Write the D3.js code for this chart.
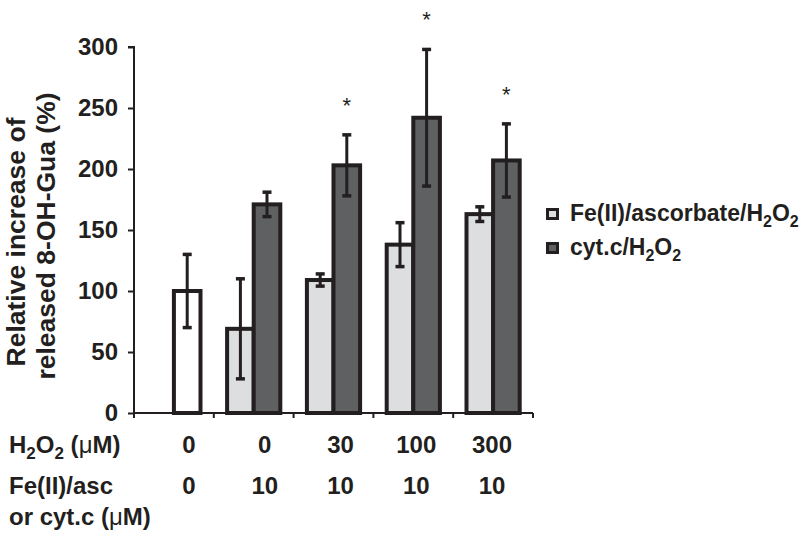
<!DOCTYPE html>
<html>
<head>
<meta charset="utf-8">
<script src="https://cdn.jsdelivr.net/npm/d3@7"></script>
<style>
  html, body { margin: 0; padding: 0; background: #fff; }
  svg { display: block; }
  text { font-family: "Liberation Sans", Arial, sans-serif; fill: #231f20; }
</style>
</head>
<body>
<script>
// ---------- data ----------
const groups = ["G1", "G2", "G3", "G4", "G5"];
const seriesNames = ["Fe(II)/ascorbate/H2O2", "cyt.c/H2O2"];
const feValues  = [null, 69, 109, 138, 163];
const feErrors  = [null, 41, 5, 18, 6];
const cytValues = [100, 171, 203, 242, 207];   // first group = control (0 µM)
const cytErrors = [30, 10, 25, 56, 30];
const significant = [false, false, true, true, true];
const h2o2Labels = ["0", "0", "30", "100", "300"];
const ironLabels = ["0", "10", "10", "10", "10"];
const yTicks = [0, 50, 100, 150, 200, 250, 300];

// ---------- layout ----------
const W = 800, H = 535;
const svg = d3.select("body").append("svg").attr("width", W).attr("height", H);

const x0 = d3.scaleBand().domain(groups).range([134, 533]).paddingInner(0).paddingOuter(0);
const x1 = d3.scaleBand().domain([0, 1]).range([0, x0.bandwidth()]).paddingInner(0).paddingOuter(0.5);
const y = d3.scaleLinear().domain([0, 300]).range([413, 47]);
const colCenters = d3.scalePoint().domain(groups).range([189, 492]);

const ink = "#231f20";
const lightFill = "#dcdedf";
const darkFill = "#5e6061";

// bars
const barData = [];
groups.forEach((g, i) => {
  if (feValues[i] != null) barData.push({g, s: 0, v: feValues[i], e: feErrors[i], sig: false, fill: lightFill});
  barData.push({g, s: 1, v: cytValues[i], e: cytErrors[i], sig: significant[i], fill: i === 0 ? "#ffffff" : darkFill});
});

svg.append("g").selectAll("rect").data(barData).join("rect")
  .attr("x", d => x0(d.g) + x1(d.s))
  .attr("y", d => y(d.v))
  .attr("width", x1.bandwidth())
  .attr("height", d => y(0) - y(d.v))
  .attr("fill", d => d.fill)
  .attr("stroke", ink)
  .attr("stroke-width", 4);

// error bars
const eg = svg.append("g").attr("stroke", ink).attr("stroke-width", 3);
barData.forEach(d => {
  const cx = x0(d.g) + x1(d.s) + x1.bandwidth() / 2;
  eg.append("line").attr("x1", cx).attr("x2", cx).attr("y1", y(d.v + d.e)).attr("y2", y(d.v - d.e));
  eg.append("line").attr("x1", cx - 4.5).attr("x2", cx + 4.5).attr("y1", y(d.v + d.e)).attr("y2", y(d.v + d.e)).attr("stroke-width", 3.5);
  eg.append("line").attr("x1", cx - 4.5).attr("x2", cx + 4.5).attr("y1", y(d.v - d.e)).attr("y2", y(d.v - d.e)).attr("stroke-width", 3.5);
  if (d.sig) {
    svg.append("text").attr("x", cx).attr("y", y(d.v + d.e) - 22)
      .attr("text-anchor", "middle").attr("font-size", 22).text("*");
  }
});

// axes
const yAxis = svg.append("g").attr("transform", "translate(134,0)")
  .call(d3.axisLeft(y).tickValues(yTicks).tickSize(6).tickPadding(10));
yAxis.select(".domain").attr("stroke", ink).attr("stroke-width", 2).attr("d", `M-6,${y(300)}H0V${y(0)}`);
yAxis.selectAll(".tick line").attr("stroke", ink).attr("stroke-width", 2);
yAxis.selectAll(".tick text").attr("font-size", 24).attr("font-weight", "bold")
  .attr("font-family", "Liberation Sans, Arial, sans-serif").attr("fill", ink);

const xAxis = svg.append("g").attr("transform", "translate(0,413)");
xAxis.append("line").attr("x1", 134).attr("x2", 533).attr("y1", 0).attr("y2", 0)
  .attr("stroke", ink).attr("stroke-width", 2);
const bounds = groups.map(g => x0(g)).concat([x0.range()[1]]);
xAxis.selectAll("line.tk").data(bounds).join("line").attr("class", "tk")
  .attr("x1", d => d).attr("x2", d => d).attr("y1", 0).attr("y2", 5)
  .attr("stroke", ink).attr("stroke-width", 2);

// y-axis title
const yt = svg.append("g").attr("font-size", 26.5).attr("font-weight", "bold");
yt.append("text").attr("transform", "translate(25,242) rotate(-90)")
  .attr("text-anchor", "middle").text("Relative increase of");
yt.append("text").attr("transform", "translate(55,236) rotate(-90)")
  .attr("text-anchor", "middle").text("released 8-OH-Gua (%)");

// table rows under axis
const tbl = svg.append("g").attr("font-size", 24).attr("font-weight", "bold");
const r1 = tbl.append("text").attr("x", 9).attr("y", 453);
r1.append("tspan").text("H");
r1.append("tspan").attr("font-size", 17).attr("dy", 6).text("2");
r1.append("tspan").attr("dy", -6).text("O");
r1.append("tspan").attr("font-size", 17).attr("dy", 6).text("2");
r1.append("tspan").attr("dy", -6).text(" (");
r1.append("tspan").attr("font-weight", "normal").text("\u03bc");
r1.append("tspan").text("M)");
tbl.append("text").attr("x", 9).attr("y", 494).text("Fe(II)/asc");
const r3 = tbl.append("text").attr("x", 9).attr("y", 525);
r3.append("tspan").text("or cyt.c (");
r3.append("tspan").attr("font-weight", "normal").text("\u03bc");
r3.append("tspan").text("M)");

tbl.selectAll("text.h").data(groups).join("text").attr("class", "h")
  .attr("x", g => colCenters(g)).attr("y", 453).attr("text-anchor", "middle")
  .text((g, i) => h2o2Labels[i]);
tbl.selectAll("text.f").data(groups).join("text").attr("class", "f")
  .attr("x", g => colCenters(g)).attr("y", 494).attr("text-anchor", "middle")
  .text((g, i) => ironLabels[i]);

// legend
const legendFills = [lightFill, darkFill];
const lg = svg.append("g").attr("font-size", 23).attr("font-weight", "bold");
seriesNames.forEach((name, i) => {
  const yy = 208 + i * 34;
  lg.append("rect").attr("x", 547.5).attr("y", yy + 1.5).attr("width", 10).attr("height", 9)
    .attr("fill", legendFills[i]).attr("stroke", ink).attr("stroke-width", 3);
  const t = lg.append("text").attr("x", 570).attr("y", yy + 13);
  const parts = name.split("H2O2");
  t.append("tspan").text(parts[0] + "H");
  t.append("tspan").attr("font-size", 16).attr("dy", 6).text("2");
  t.append("tspan").attr("dy", -6).text("O");
  t.append("tspan").attr("font-size", 16).attr("dy", 6).text("2");
});
</script>
</body>
</html>
